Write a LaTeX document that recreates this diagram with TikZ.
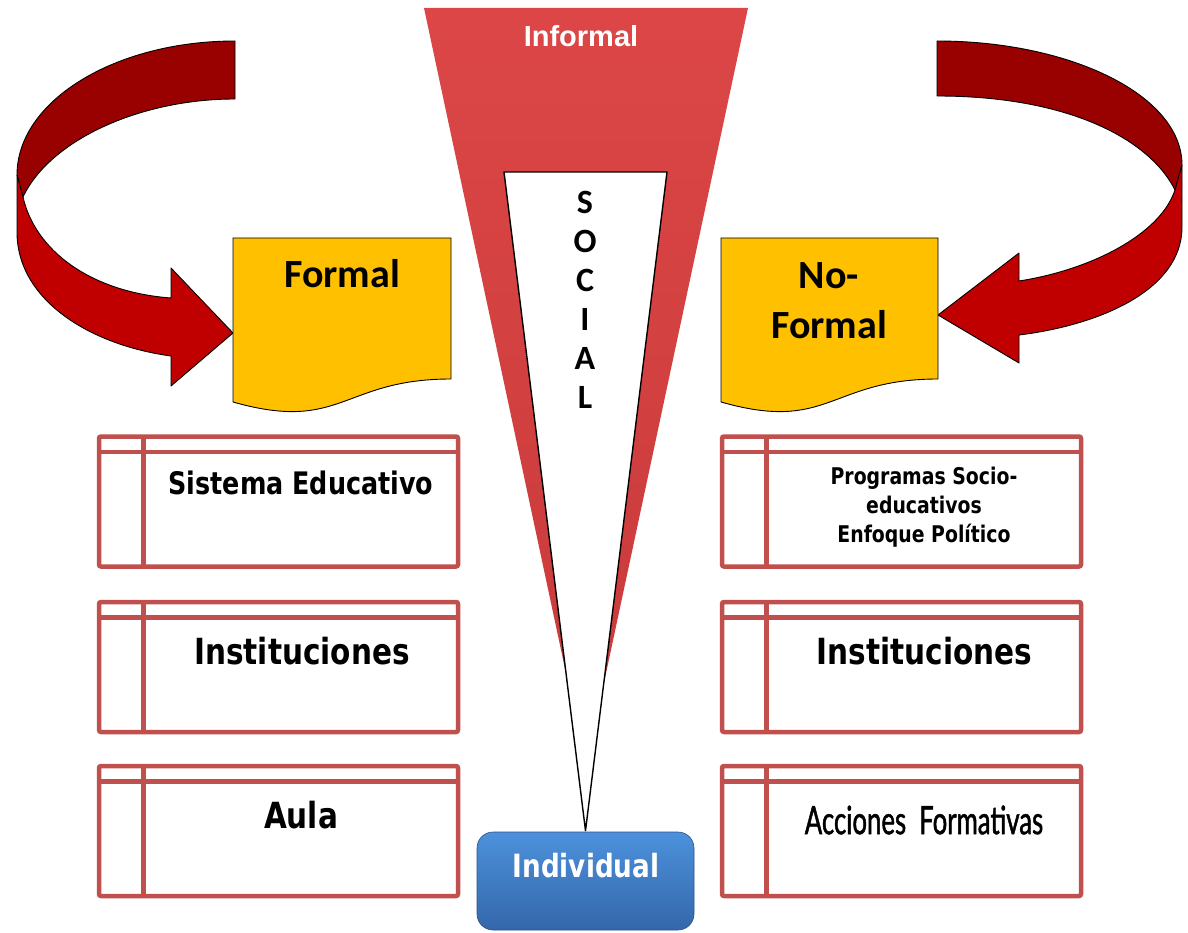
\documentclass[tikz,border=0pt]{standalone}
\usepackage{fontspec}
\setmainfont{Carlito}
\newfontfamily\tahfont[FakeStretch=0.82]{DejaVu Sans}
\newfontfamily\arialfont{Liberation Sans}
\newfontfamily\condfont[FakeStretch=0.66,FakeBold=1.2]{Lato}
\usetikzlibrary{calc}
\definecolor{boxred}{HTML}{C0504D}
\definecolor{docyellow}{HTML}{FFC000}
\definecolor{arrdark}{HTML}{990000}
\definecolor{arrbright}{HTML}{C00000}
\definecolor{funtop}{HTML}{DC4646}
\definecolor{funbot}{HTML}{C83A3A}
\definecolor{blutop}{HTML}{4C91DC}
\definecolor{blubot}{HTML}{3467AB}
\tikzset{
  tbox/.style={draw=boxred, line width=4.5pt, rounded corners=2pt, minimum width=359pt, minimum height=130pt, inner sep=0pt, outer sep=0pt},
  tline/.style={draw=boxred, line width=4.5pt},
  doc/.style={fill=docyellow, draw=black, line width=0.9pt},
  arrow1/.style={fill=arrdark, draw=black, line width=0.9pt, line join=round},
  arrow2/.style={fill=arrbright, draw=black, line width=0.9pt, line join=round},
  boxtxt/.style={font=\tahfont\bfseries\fontsize{31}{36}\selectfont, inner sep=0pt},
  bigtxt/.style={font=\bfseries\fontsize{40}{50}\selectfont, inner sep=0pt, align=center}
}
\begin{document}
\begin{tikzpicture}[x=1pt,y=-1pt]
\useasboundingbox[fill=white] (0,0) rectangle (1188,933);

% ---- curved arrows ----
\fill[arrow1] (235,41) .. controls (115,41) and (17,101) .. (17,175) -- (23,197)
   .. controls (50,140) and (140,99) .. (235,99) -- cycle;
\fill[arrow2] (17,175) -- (17,232) .. controls (17,300) and (90,345) .. (171,356)
   -- (171,386) -- (233,333) -- (171,268) -- (171,298)
   .. controls (90,292) and (35,250) .. (23,197) -- cycle;

\fill[arrow1] (937,41) .. controls (1070,41) and (1182,95) .. (1182,165) -- (1175,190)
   .. controls (1150,140) and (1070,96) .. (937,96) -- cycle;
\fill[arrow2] (1182,165) -- (1182,227) .. controls (1182,290) and (1100,325) .. (1019,335)
   -- (1019,363) -- (938,315) -- (1019,253) -- (1019,281)
   .. controls (1090,270) and (1160,235) .. (1175,190) -- cycle;

% ---- documents ----
\filldraw[doc] (233,238) -- (451,238) -- (451,379) .. controls (342,379) and (342,433) .. (233,402) -- cycle;
\filldraw[doc] (721,238) -- (938,238) -- (938,379) .. controls (829.5,379) and (829.5,433) .. (721,402) -- cycle;
\node[bigtxt] (formal) at (342,274) {Formal};
\node[bigtxt] (noformal) at (829,301) {No-\\Formal};

% ---- individual ----
\node[minimum width=217pt, minimum height=98pt, rounded corners=16pt, draw=blubot!80!black, line width=0.6pt,
      top color=blutop, bottom color=blubot, inner sep=0pt] (ind) at (585.5,881) {};
\node[font=\tahfont\bfseries\fontsize{32}{36}\selectfont, text=white, inner sep=0pt] (indtxt) at (586,866) {Individual};

% ---- funnel ----
\shade[top color=funtop, bottom color=funbot] (424,8) -- (748,8) -- (586,767) -- cycle;
\coordinate (apex) at ($(ind.north)+(0,-1)$);
\draw[fill=white, line width=1.4pt, line join=round] (504,172) -- (667,172) -- (apex) -- cycle;
\node[font=\arialfont\bfseries\fontsize{29}{32}\selectfont, text=white, inner sep=0pt] (informal) at (581,36) {Informal};
\node[font=\bfseries\fontsize{34}{39}\selectfont, align=center, inner sep=0pt] (social) at (585,300) {S\\O\\C\\I\\A\\L};

% ---- table boxes ----
\node[tbox] (l1) at (278.5,501.5) {};
\node[tbox] (l2) at (278.5,667) {};
\node[tbox] (l3) at (278.5,831) {};
\node[tbox] (r1) at (901.5,501.5) {};
\node[tbox] (r2) at (901.5,667) {};
\node[tbox] (r3) at (901.5,831) {};
\foreach \b in {l1,l2,l3,r1,r2,r3}{
  \draw[tline] ($(\b.north west)+(0,15.5)$) -- ($(\b.north east)+(0,15.5)$);
  \draw[tline] ($(\b.north west)+(44.6,0)$) -- ($(\b.south west)+(44.6,0)$);
}
\node[boxtxt] (t1) at (301,483) {Sistema Educativo};
\node[boxtxt, font=\tahfont\bfseries\fontsize{36}{40}\selectfont] (t2) at (302,651) {Instituciones};
\node[boxtxt, font=\tahfont\bfseries\fontsize{36}{40}\selectfont] (t3) at (301,815) {Aula};
\node[boxtxt, font=\tahfont\bfseries\fontsize{23}{29}\selectfont, align=center] (t4) at (924,507) {Programas Socio-\\educativos\\Enfoque Político};
\node[boxtxt, font=\tahfont\bfseries\fontsize{36}{40}\selectfont] (t5) at (924.5,651) {Instituciones};
\node[font=\condfont\fontsize{39}{44}\selectfont, inner sep=0pt] (t6) at (924,820) {Acciones\, Formativas};
\end{tikzpicture}
\end{document}
